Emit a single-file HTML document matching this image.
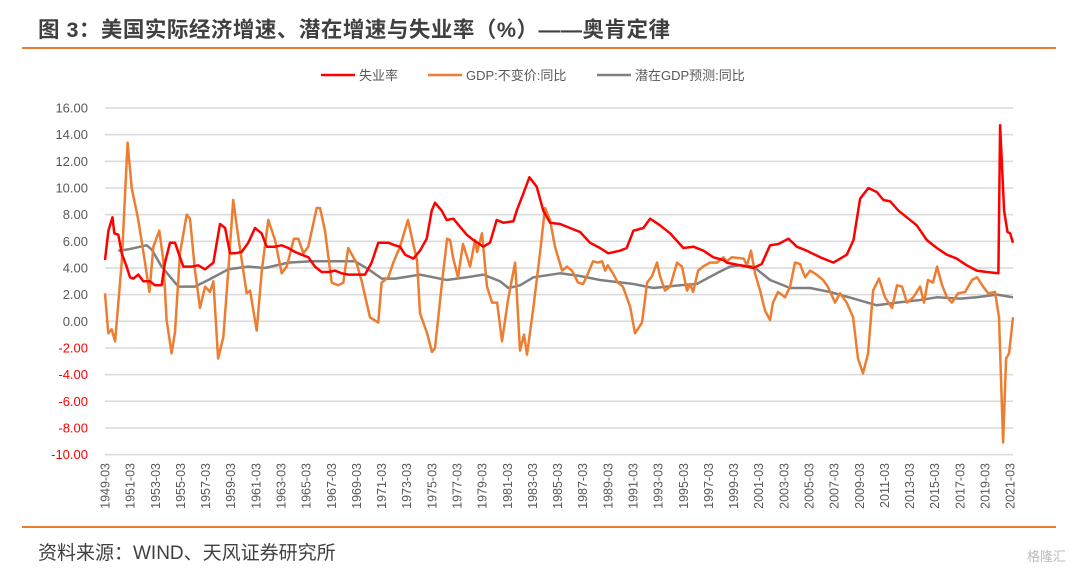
<!DOCTYPE html>
<html><head><meta charset="utf-8">
<style>
html,body{margin:0;padding:0;background:#fff;}
body{width:1080px;height:572px;position:relative;overflow:hidden;font-family:"Liberation Sans","Noto Sans CJK SC",sans-serif;}
#title{position:absolute;left:38px;top:13px;font-size:21.5px;font-weight:bold;color:#404040;letter-spacing:0.5px;}
#topline{position:absolute;left:22px;top:47px;width:1034px;height:2px;background:#ed7d31;}
#botline{position:absolute;left:22px;top:526px;width:1034px;height:2px;background:#ed7d31;}
#source{position:absolute;left:38px;top:538px;font-size:19px;color:#404040;}
#wm{position:absolute;right:14px;top:546px;font-size:13px;color:#bbb;}
svg{position:absolute;left:0;top:0;}
</style></head>
<body>
<div id="title">图 3：美国实际经济增速、潜在增速与失业率（%）——奥肯定律</div>
<div id="topline"></div>
<svg id="chart" width="1080" height="572"></svg>
<div id="botline"></div>
<div id="source">资料来源：WIND、天风证券研究所</div>
<div id="wm">格隆汇</div>
<script>
const yTicks=[16,14,12,10,8,6,4,2,0,-2,-4,-6,-8,-10];
const xTickYears=[];for(let y=1949;y<=2021;y+=2)xTickYears.push(y);
const gdpDates=[1949.0,1949.26,1949.53,1949.8,1950.33,1950.8,1951.12,1951.65,1952.18,1952.53,1952.85,1953.32,1953.64,1953.9,1954.3,1954.57,1954.97,1955.5,1955.76,1956.16,1956.56,1956.96,1957.35,1957.62,1958.0,1958.41,1958.81,1959.2,1959.6,1960.27,1960.54,1961.07,1961.47,1961.99,1962.52,1963.06,1963.45,1964.03,1964.38,1964.78,1965.17,1965.84,1966.1,1966.5,1967.03,1967.56,1967.96,1968.35,1969.0,1969.4,1970.08,1970.74,1971.0,1971.54,1971.93,1972.33,1972.47,1973.1,1973.4,1973.82,1974.06,1974.62,1975.01,1975.25,1975.81,1976.21,1976.45,1976.68,1977.08,1977.48,1978.04,1978.43,1978.6,1978.99,1979.39,1979.79,1980.19,1980.58,1981.06,1981.62,1982.01,1982.33,1982.57,1983.05,1983.6,1984.0,1984.4,1984.8,1985.36,1985.75,1986.15,1986.63,1987.03,1987.42,1987.82,1988.22,1988.54,1988.78,1989.0,1989.4,1989.8,1990.2,1990.77,1991.16,1991.72,1992.12,1992.52,1992.91,1993.15,1993.55,1993.95,1994.5,1994.9,1995.3,1995.54,1995.78,1996.18,1996.57,1997.13,1997.69,1997.93,1998.2,1998.46,1998.86,1999.8,2000.07,2000.39,2000.71,2001.11,2001.5,2001.9,2002.14,2002.54,2003.1,2003.5,2003.89,2004.29,2004.69,2005.09,2005.6,2006.12,2006.5,2007.08,2007.47,2008.0,2008.51,2008.9,2009.3,2009.7,2010.1,2010.57,2011.05,2011.61,2012.0,2012.4,2012.8,2013.3,2013.84,2014.15,2014.47,2014.87,2015.19,2015.59,2015.98,2016.38,2016.86,2017.42,2017.97,2018.37,2018.85,2019.25,2019.8,2020.12,2020.44,2020.68,2020.92,2021.23];
const gdpValues=[2.1,-0.9,-0.6,-1.5,4.4,13.4,10,7.6,4.4,2.2,5.6,6.8,4.6,0.1,-2.4,-0.8,5.1,8,7.7,3.8,1,2.6,2.2,3,-2.8,-1.2,3.8,9.1,6.3,2.1,2.3,-0.7,3.8,7.6,6.1,3.6,4.1,6.2,6.2,5.1,5.6,8.5,8.5,6.8,2.9,2.7,2.9,5.5,4.4,3.1,0.3,-0.1,2.9,3.3,4.4,5.3,5.6,7.6,6.3,4.6,0.6,-0.9,-2.3,-2,2.9,6.2,6.1,4.8,3.3,5.8,4.1,6.1,5.2,6.6,2.6,1.4,1.4,-1.5,1.6,4.4,-2.2,-1,-2.5,0.8,5.1,8.5,7.6,5.6,3.8,4.1,3.8,2.9,2.8,3.6,4.5,4.4,4.5,3.8,4.2,3.6,2.9,2.6,1.1,-0.9,-0.1,2.9,3.4,4.4,3.4,2.3,2.6,4.4,4.1,2.3,2.8,2.2,3.8,4.1,4.4,4.4,4.6,4.8,4.5,4.8,4.7,4.2,5.3,3.6,2.3,0.8,0.1,1.4,2.2,1.8,2.6,4.4,4.3,3.3,3.8,3.5,3.1,2.6,1.4,2.1,1.4,0.3,-2.8,-3.9,-2.4,2.3,3.2,1.8,1,2.7,2.6,1.4,1.8,2.6,1.4,3.1,2.9,4.1,2.7,1.8,1.4,2.1,2.2,3.1,3.3,2.6,2.1,2.2,0.3,-9.1,-2.8,-2.4,0.3];
const unDates=[1949.0,1949.27,1949.6,1949.74,1950.06,1950.33,1950.72,1950.99,1951.25,1951.65,1952.05,1952.58,1952.98,1953.5,1953.77,1954.17,1954.57,1954.97,1955.23,1955.9,1956.42,1956.96,1957.62,1958.15,1958.55,1958.94,1959.34,1959.87,1960.4,1960.93,1961.46,1961.86,1962.52,1963.05,1963.58,1964.12,1964.65,1965.18,1965.7,1966.24,1966.77,1967.3,1967.83,1968.36,1968.89,1969.68,1970.21,1970.74,1971.54,1972.07,1972.47,1972.87,1973.53,1974.06,1974.59,1974.99,1975.25,1975.78,1976.18,1976.71,1977.24,1977.77,1978.3,1979.1,1979.63,1980.16,1980.69,1981.49,1981.75,1982.28,1982.76,1983.34,1983.87,1984.4,1985.2,1985.99,1986.79,1987.58,1988.38,1989.04,1989.97,1990.5,1991.03,1991.83,1992.36,1993.15,1993.95,1995.01,1995.81,1996.6,1997.4,1998.19,1998.46,1998.99,2000.05,2000.58,2001.24,2001.91,2002.57,2003.37,2004.03,2004.82,2005.89,2006.95,2008.01,2008.54,2009.07,2009.73,2010.39,2010.92,2011.45,2012.12,2012.78,2013.57,2014.37,2015.17,2015.96,2016.76,2017.55,2018.35,2019.14,2020.07,2020.2,2020.52,2020.79,2021.0,2021.23];
const unValues=[4.6,6.8,7.8,6.6,6.5,5.1,4.1,3.3,3.2,3.5,3,3.0,2.7,2.7,4.4,5.9,5.9,4.8,4.1,4.1,4.2,3.9,4.4,7.3,7.0,5.1,5.1,5.2,5.9,7,6.6,5.6,5.6,5.7,5.5,5.2,5.0,4.8,4.1,3.7,3.7,3.8,3.6,3.5,3.5,3.5,4.4,5.9,5.9,5.7,5.6,5,4.7,5.3,6.2,8.3,8.9,8.3,7.6,7.7,7.1,6.5,6.1,5.6,5.9,7.6,7.4,7.5,8.3,9.6,10.8,10.1,8.3,7.4,7.3,7,6.7,5.9,5.5,5.1,5.3,5.5,6.8,7,7.7,7.2,6.6,5.5,5.6,5.3,4.8,4.6,4.4,4.3,4.1,4,4.3,5.7,5.8,6.2,5.6,5.3,4.8,4.4,5,6.1,9.2,10,9.7,9.1,9.0,8.3,7.8,7.2,6.1,5.5,5,4.7,4.2,3.8,3.7,3.6,14.7,8.3,6.7,6.6,5.9];
const potDates=[1950.06,1950.86,1952.31,1952.71,1953.5,1954.83,1956.16,1957.22,1958.81,1960.4,1961.73,1963.58,1965.44,1966.77,1968.89,1969.95,1971.01,1972.07,1973.4,1974.06,1975.12,1976.18,1977.77,1979.1,1980.43,1981.09,1982.02,1983.08,1985.2,1986.79,1988.38,1991.03,1992.62,1994.75,1996.07,1997.66,1998.72,1999.52,2000.58,2001.91,2003.5,2005.09,2006.68,2008.54,2010.39,2011.98,2013.84,2015.17,2017.02,2018.35,2019.94,2021.23];
const potValues=[5.3,5.4,5.7,5.4,4.1,2.6,2.6,3.1,3.9,4.1,4.0,4.4,4.5,4.5,4.5,3.9,3.2,3.2,3.4,3.5,3.3,3.1,3.3,3.5,3.0,2.5,2.7,3.3,3.6,3.4,3.1,2.8,2.5,2.7,2.8,3.6,4.1,4.2,4.1,3.1,2.5,2.5,2.2,1.7,1.2,1.4,1.6,1.8,1.7,1.8,2.0,1.8];

const NS='http://www.w3.org/2000/svg';
const svg=document.getElementById('chart');
const X0=105,X1=1013,T0=1949.0,T1=2021.23;
const xs=t=>X0+(t-T0)/(T1-T0)*(X1-X0);
const ys=v=>321.3-v*13.33;
function mk(tag,attrs){const e=document.createElementNS(NS,tag);for(const k in attrs)e.setAttribute(k,attrs[k]);svg.appendChild(e);return e;}
yTicks.forEach(v=>{
  const g=mk('line',{x1:X0,x2:X1,y1:ys(v),y2:ys(v),stroke:'#d9d9d9','stroke-width':1.5});
  
  
  const t=mk('text',{x:88,y:ys(v)+4.5,'text-anchor':'end','font-size':13,fill:v<0?'#ff0000':'#595959','font-family':'Liberation Sans, sans-serif'});
  t.textContent=v.toFixed(2);
  
  
});
xTickYears.forEach(y=>{
  const x=xs(y+0.0);
  const t=mk('text',{x:0,y:0,'text-anchor':'end','font-size':12.5,fill:'#595959','font-family':'Liberation Sans, sans-serif',transform:`translate(${x+4.5},463) rotate(-90)`});
  t.textContent=y+'-03';
  
  
});
function series(dates,vals,color,name){
  const d=dates.map((t,i)=>(i?'L':'M')+xs(t).toFixed(1)+' '+ys(vals[i]).toFixed(1)).join(' ');
  const p=mk('path',{d:d,fill:'none',stroke:color,'stroke-width':2.5,'stroke-linejoin':'round'});
  
  
}
series(potDates,potValues,'#808080','potential-gdp-line');
series(gdpDates,gdpValues,'#ed7d31','real-gdp-line');
series(unDates,unValues,'#ff0000','unemployment-line');
const legend=[['失业率','#ff0000',321],['GDP:不变价:同比','#ed7d31',428],['潜在GDP预测:同比','#808080',597]];
legend.forEach(([lbl,c,x])=>{
  const l=mk('line',{x1:x,x2:x+34,y1:75,y2:75,stroke:c,'stroke-width':2.5});
  
  
  const t=mk('text',{x:x+38,y:80,'font-size':13,fill:'#595959','font-family':'Liberation Sans, Noto Sans CJK SC, sans-serif'});
  t.textContent=lbl;
  
  
});
</script>
</body></html>
